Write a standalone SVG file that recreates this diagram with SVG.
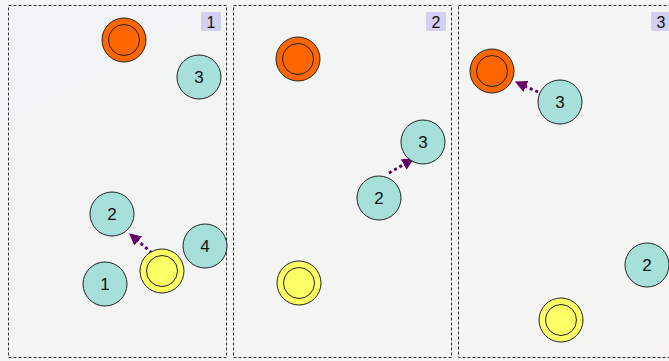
<svg xmlns="http://www.w3.org/2000/svg" width="669" height="361" viewBox="0 0 669 361">
<defs>
<style>
.panel{fill:none;stroke:#333;stroke-width:1;stroke-dasharray:3,2}
.tag{fill:#d4d0f2}
.tagt{font-family:"Liberation Sans",Arial,sans-serif;font-size:16px;fill:#111;text-anchor:middle}
.teal{fill:#a6e0d9;stroke:#222;stroke-width:1}
.orange{fill:#ff6600;stroke:#222;stroke-width:1}
.yellow{fill:#ffff66;stroke:#222;stroke-width:1}
.inner{fill:none;stroke:#222;stroke-width:1}
.lbl{font-family:"Liberation Sans",Arial,sans-serif;font-size:17px;fill:#111;text-anchor:middle}
.conn{fill:none;stroke:#660066;stroke-width:3;stroke-dasharray:3,3}
</style>
<marker id="ah" viewBox="0 0 10 10" refX="9" refY="5" markerWidth="4" markerHeight="4" orient="auto" markerUnits="strokeWidth">
<path d="M0,0L10,5L0,10z" fill="#660066"/>
</marker>
<linearGradient id="bg" x1="0" y1="0" x2="1" y2="1">
<stop offset="0" stop-color="#f1f4f5"/>
<stop offset="1" stop-color="#f6f5f3"/>
</linearGradient>
</defs>
<rect width="669" height="361" fill="url(#bg)"/>
<g id="panels">
<rect class="panel" x="8.5" y="5.5" width="218" height="352"/>
<rect class="panel" x="233.5" y="5.5" width="218" height="352"/>
<rect class="panel" x="458.5" y="5.5" width="220" height="352"/>
<rect class="tag" x="201" y="12" width="20" height="19"/>
<text class="tagt" x="211" y="28">1</text>
<rect class="tag" x="426" y="12" width="20" height="19"/>
<text class="tagt" x="436" y="28">2</text>
<rect class="tag" x="651" y="12" width="20" height="19"/>
<text class="tagt" x="661" y="28">3</text>
</g>
<g id="connectors">
<line class="conn" x1="152" y1="253" x2="130" y2="234" marker-end="url(#ah)"/>
<line class="conn" x1="389" y1="173" x2="413" y2="159" marker-end="url(#ah)"/>
<line class="conn" x1="538" y1="92" x2="516" y2="82" marker-end="url(#ah)"/>
</g>
<g id="p1-orange"><circle class="orange" cx="124" cy="40" r="22"/><circle class="inner" cx="124" cy="40" r="15.5"/></g>
<g id="p1-n3"><circle class="teal" cx="199" cy="77" r="22"/><text class="lbl" x="199" y="83">3</text></g>
<g id="p1-n2"><circle class="teal" cx="112" cy="214" r="22"/><text class="lbl" x="112" y="220">2</text></g>
<g id="p1-n4"><circle class="teal" cx="205" cy="246" r="22"/><text class="lbl" x="205" y="252">4</text></g>
<g id="p1-n1"><circle class="teal" cx="105" cy="284" r="22"/><text class="lbl" x="105" y="290">1</text></g>
<g id="p1-yellow"><circle class="yellow" cx="162" cy="271" r="22"/><circle class="inner" cx="162" cy="271" r="15.5"/></g>
<g id="p2-orange"><circle class="orange" cx="298" cy="59" r="22"/><circle class="inner" cx="298" cy="59" r="15.5"/></g>
<g id="p2-n3"><circle class="teal" cx="423" cy="142" r="22"/><text class="lbl" x="423" y="148">3</text></g>
<g id="p2-n2"><circle class="teal" cx="379" cy="198" r="22"/><text class="lbl" x="379" y="204">2</text></g>
<g id="p2-yellow"><circle class="yellow" cx="299" cy="283" r="22"/><circle class="inner" cx="299" cy="283" r="15.5"/></g>
<g id="p3-orange"><circle class="orange" cx="492" cy="71" r="22"/><circle class="inner" cx="492" cy="71" r="15.5"/></g>
<g id="p3-n3"><circle class="teal" cx="560" cy="102" r="22"/><text class="lbl" x="560" y="108">3</text></g>
<g id="p3-n2"><circle class="teal" cx="647" cy="265" r="22"/><text class="lbl" x="647" y="271">2</text></g>
<g id="p3-yellow"><circle class="yellow" cx="561" cy="320" r="22"/><circle class="inner" cx="561" cy="320" r="15.5"/></g>
</svg>
